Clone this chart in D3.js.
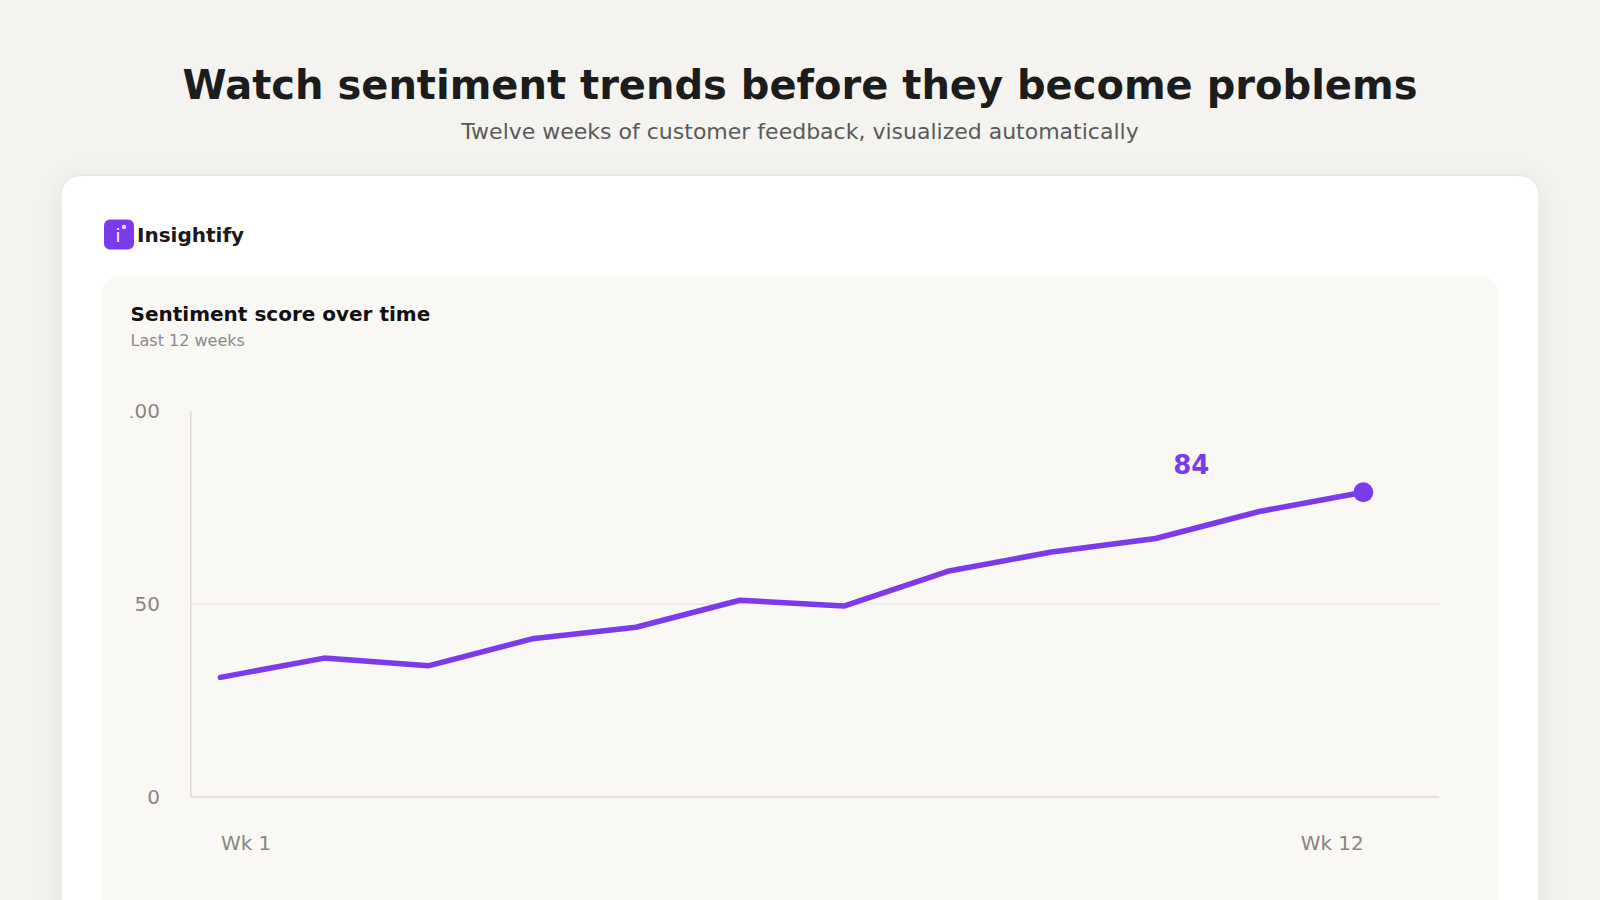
<!DOCTYPE html>
<html>
<head>
<meta charset="utf-8">
<script src="https://cdn.jsdelivr.net/npm/d3@7"></script>
<style>
	html, body { margin: 0; padding: 0; background: #f4f3ef; overflow: hidden; }
	svg { display: block; font-family: "DejaVu Sans", sans-serif; }
</style>
</head>
<body>
<div id="page"></div>
<script>
// chart data
const weeks = [1, 2, 3, 4, 5, 6, 7, 8, 9, 10, 11, 12];
const scores = [31, 36, 34, 41, 44, 51, 49.5, 58.5, 63.5, 67, 74, 79];
const yTicks = [0, 50, 100];
const xTickWeeks = [1, 12];
const calloutValue = 84;

const purple = "#7c3aed";

const svg = d3.select("#page").append("svg")
	.attr("width", 1600)
	.attr("height", 900);

const defs = svg.append("defs");
defs.append("filter").attr("id", "cardShadow")
	.attr("x", "-10%").attr("y", "-10%").attr("width", "120%").attr("height", "120%")
	.append("feDropShadow")
		.attr("dx", 0).attr("dy", 4)
		.attr("stdDeviation", 12)
		.attr("flood-color", "#000")
		.attr("flood-opacity", 0.07);

svg.append("rect").attr("width", 1600).attr("height", 900).attr("fill", "#f4f3ef");

// header
svg.append("text")
	.attr("x", 800).attr("y", 99)
	.attr("text-anchor", "middle")
	.attr("font-size", 40).attr("font-weight", "bold")
	.attr("fill", "#1c1c1c")
	.text("Watch sentiment trends before they become problems");

svg.append("text")
	.attr("x", 800).attr("y", 139)
	.attr("text-anchor", "middle")
	.attr("font-size", 22)
	.attr("fill", "#5a5a5a")
	.text("Twelve weeks of customer feedback, visualized automatically");

// card
svg.append("rect")
	.attr("x", 61).attr("y", 175.5)
	.attr("width", 1478).attr("height", 800)
	.attr("rx", 20)
	.attr("fill", "#fff")
	.attr("stroke", "#e7e4dd")
	.attr("filter", "url(#cardShadow)");

// brand
const brand = svg.append("g").attr("transform", "translate(104,219.5)");
brand.append("rect").attr("width", 30).attr("height", 30).attr("rx", 6).attr("fill", purple);
brand.append("text")
	.attr("x", 14).attr("y", 22)
	.attr("text-anchor", "middle")
	.attr("font-size", 18)
	.attr("fill", "#fff")
	.text("i");
brand.append("circle").attr("cx", 20).attr("cy", 7.5).attr("r", 2.2).attr("fill", "#d9cdfc");

svg.append("text")
	.attr("x", 137).attr("y", 241.5)
	.attr("font-size", 20).attr("font-weight", "bold")
	.attr("fill", "#1a1a1a")
	.text("Insightify");

// inner panel
svg.append("rect")
	.attr("x", 102).attr("y", 276.5)
	.attr("width", 1396).attr("height", 700)
	.attr("rx", 16)
	.attr("fill", "#f9f8f5");

svg.append("text")
	.attr("x", 130.6).attr("y", 320.5)
	.attr("font-size", 20).attr("font-weight", "bold")
	.attr("fill", "#111")
	.text("Sentiment score over time");

svg.append("text")
	.attr("x", 130.6).attr("y", 345.5)
	.attr("font-size", 16)
	.attr("fill", "#8a8a8a")
	.text("Last 12 weeks");

// chart area (nested svg clips at its left edge, like the reference)
const chart = svg.append("svg")
	.attr("x", 130.6).attr("y", 370)
	.attr("width", 1340).attr("height", 500);

const axisLeftX = 60.2, axisRightX = 1308.4;
const xs = d3.scaleLinear().domain([1, 12]).range([89.8, 1232.7]);
const ys = d3.scaleLinear().domain([0, 100]).range([427, 41.2]);

// gridline at the middle tick
chart.append("g")
	.selectAll("line")
	.data(yTicks.filter(d => d > 0 && d < 100))
	.enter().append("line")
		.attr("x1", axisLeftX).attr("x2", axisRightX)
		.attr("y1", d => ys(d)).attr("y2", d => ys(d))
		.attr("stroke", "#ebe8e2").attr("stroke-width", 1.5);

// axis lines
chart.append("line")
	.attr("x1", axisLeftX).attr("x2", axisLeftX)
	.attr("y1", ys(100)).attr("y2", ys(0))
	.attr("stroke", "#dedbd5").attr("stroke-width", 1.5);
chart.append("line")
	.attr("x1", axisLeftX).attr("x2", axisRightX)
	.attr("y1", ys(0)).attr("y2", ys(0))
	.attr("stroke", "#dedbd5").attr("stroke-width", 1.5);

// y tick labels
const yAxis = chart.append("g")
	.attr("transform", "translate(" + (axisLeftX - 30.8) + ",0)")
	.call(d3.axisLeft(ys).tickValues(yTicks).tickSize(0).tickPadding(0));
yAxis.select(".domain").remove();
yAxis.selectAll("text")
	.attr("font-size", 20)
	.attr("font-family", "DejaVu Sans, sans-serif")
	.attr("fill", "#8a8580");

// x tick labels
const xAxis = chart.append("g")
	.attr("transform", "translate(0,466)")
	.call(d3.axisBottom(xs).tickValues(xTickWeeks).tickSize(0).tickPadding(0).tickFormat(d => "Wk " + d));
xAxis.select(".domain").remove();
xAxis.selectAll("text")
	.attr("font-size", 20)
	.attr("font-family", "DejaVu Sans, sans-serif")
	.attr("fill", "#8a8580")
	.attr("text-anchor", (d, i) => i === 0 ? "start" : "end");

// line
const pts = weeks.map((w, i) => ({ week: w, score: scores[i] }));
chart.append("path")
	.datum(pts)
	.attr("fill", "none")
	.attr("stroke", purple)
	.attr("stroke-width", 5.5)
	.attr("stroke-linejoin", "round")
	.attr("stroke-linecap", "round")
	.attr("d", d3.line().x(d => xs(d.week)).y(d => ys(d.score)));

const last = pts[pts.length - 1];
chart.append("circle")
	.attr("cx", xs(last.week)).attr("cy", ys(last.score))
	.attr("r", 10)
	.attr("fill", purple);

chart.append("text")
	.attr("x", xs(last.week) - 172)
	.attr("y", ys(calloutValue) + 1.5)
	.attr("text-anchor", "middle")
	.attr("font-size", 26).attr("font-weight", "bold")
	.attr("fill", purple)
	.text(calloutValue);
</script>
</body>
</html>
